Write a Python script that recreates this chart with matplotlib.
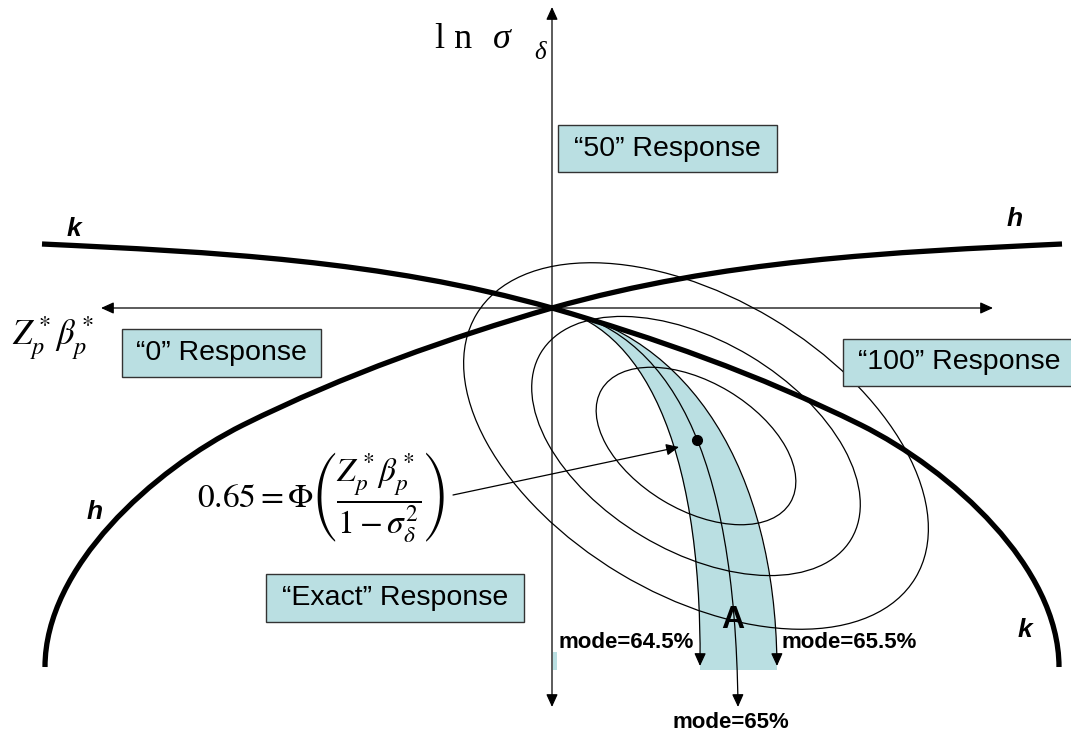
import matplotlib.pyplot as plt
from matplotlib.path import Path
from matplotlib.patches import PathPatch, Ellipse, Rectangle, FancyArrowPatch

plt.rcParams['mathtext.fontset'] = 'stix'

# canvas coordinates, y grows downward
origin = (552, 308)

# thick k curve as cubic bezier nodes; h is its mirror about the vertical axis
k_curve = [(42, 244), (213, 252), (382, 260), (552, 308),
           (655, 338), (758, 374), (861, 425),
           (951, 470), (1059, 567), (1059, 667)]
h_curve = [(2 * origin[0] - x, y) for x, y in k_curve]

# iso-mode curves inside the shaded band
band_left = [(552, 308), (640, 325), (702, 440), (700, 666)]
band_mid = [(552, 308), (670, 330), (735, 450), (738, 707)]
band_right = [(552, 308), (690, 335), (775, 470), (777, 666)]
band_bottom = 670
mode_labels = ["mode=64.5%", "mode=65%", "mode=65.5%"]

# likelihood contours
ellipse_center = (696, 446)
ellipse_major = [110, 181, 256]
ellipse_ratio = 0.58
ellipse_tilt = 31

optimum = (697, 440)

responses = ["\u201c50\u201d Response", "\u201c0\u201d Response",
             "\u201c100\u201d Response", "\u201cExact\u201d Response"]

teal = '#badfe2'
sans = 'Liberation Sans'
serif = 'Liberation Serif'


def bezier(pts):
    return Path(pts, [Path.MOVETO] + [Path.CURVE4] * (len(pts) - 1))


fig = plt.figure(figsize=(10.71, 7.37), dpi=100)
ax = fig.add_axes([0, 0, 1, 1])
ax.set_xlim(0, 1071)
ax.set_ylim(737, 0)
ax.axis('off')

# shaded band between the 64.5% and 65.5% curves
left_fill = band_left[:-1] + [(band_left[-1][0], band_bottom)]
right_fill = band_right[:-1] + [(band_right[-1][0], band_bottom)]
verts = left_fill + right_fill[::-1] + [left_fill[0]]
codes = ([Path.MOVETO] + [Path.CURVE4] * 3 + [Path.LINETO]
         + [Path.CURVE4] * 3 + [Path.CLOSEPOLY])
ax.add_patch(PathPatch(Path(verts, codes), facecolor=teal, edgecolor='none', zorder=1))
ax.add_patch(Rectangle((553, 652), 4, 18, facecolor=teal, edgecolor='none', zorder=1))

for a in ellipse_major:
    ax.add_patch(Ellipse(ellipse_center, 2 * a, 2 * a * ellipse_ratio, angle=ellipse_tilt,
                         fill=False, edgecolor='black', lw=0.9, zorder=2))

arrow_kw = dict(arrowstyle='-|>,head_length=0.55,head_width=0.25', mutation_scale=14,
                color='black', lw=0.9, shrinkA=0, shrinkB=0, zorder=3)

for pts in (band_left, band_mid, band_right):
    ax.add_patch(FancyArrowPatch(path=bezier(pts), **arrow_kw))

# axes
both = dict(arrow_kw, arrowstyle='<|-|>,head_length=0.55,head_width=0.25')
ax.add_patch(FancyArrowPatch((origin[0], 707), (origin[0], 7), **both))
ax.add_patch(FancyArrowPatch((101, origin[1]), (993, origin[1]), **both))

# thick boundary curves
for pts in (k_curve, h_curve):
    ax.add_patch(PathPatch(bezier(pts), fill=False, edgecolor='black', lw=3.8,
                           capstyle='butt', zorder=4))

ax.plot(*optimum, 'o', color='black', ms=7, zorder=5)
ax.add_patch(FancyArrowPatch((453, 495), (679, 447), **arrow_kw))

# response boxes
boxes = [(558, 125, 219, 47), (122, 329, 199, 48), (843, 339, 240, 47), (266, 574, 258, 48)]
centers = [(667, 149), (221, 353), (959, 362), (395, 598)]
for (x, y, w, h), (cx, cy), label in zip(boxes, centers, responses):
    ax.add_patch(Rectangle((x, y), w, h, facecolor=teal, edgecolor='#333333', lw=1, zorder=6))
    ax.text(cx, cy, label, ha='center', va='center', fontsize=20.5, family=sans, zorder=7)

# curve names
for (x, y), s in zip([(74, 229), (1015, 219), (95, 512), (1025, 630)], 'khhk'):
    ax.text(x, y, s, ha='center', va='center', fontsize=19, family=sans,
            weight='bold', style='italic')

ax.text(626, 643, mode_labels[0], ha='center', va='center', fontsize=16, family=sans, weight='bold')
ax.text(731, 722, mode_labels[1], ha='center', va='center', fontsize=16, family=sans, weight='bold')
ax.text(849, 643, mode_labels[2], ha='center', va='center', fontsize=16, family=sans, weight='bold')
ax.text(733, 620, 'A', ha='center', va='center', fontsize=23, family=sans, weight='bold')

# axis titles
ax.text(435, 48, 'l n', ha='left', va='baseline', fontsize=26, family=serif)
ax.text(493, 48, '\u03c3', ha='left', va='baseline', fontsize=26, family=serif, style='italic')
ax.text(534, 59, '\u03b4', ha='left', va='baseline', fontsize=18, family=serif, style='italic')
ax.text(12, 338, r'$Z_p^*\beta_p^*$', ha='left', va='center', fontsize=25)

ax.text(321, 497, r'$0.65=\Phi\left(\dfrac{Z_p^*\beta_p^*}{1-\sigma_\delta^2}\right)$',
        ha='center', va='center', fontsize=24)

fig.savefig('out.png', dpi=100)
